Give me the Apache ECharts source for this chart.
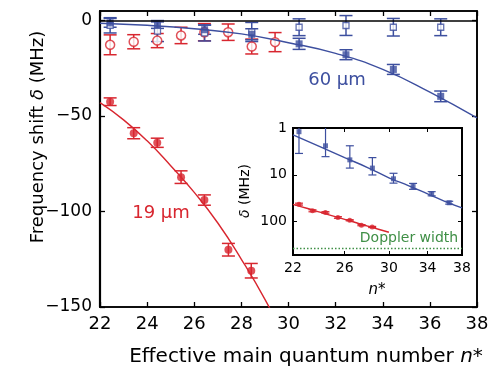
<!DOCTYPE html>
<html>
<head>
<meta charset="utf-8">
<script src="https://cdn.jsdelivr.net/npm/echarts@6/dist/echarts.min.js"></script>
<style>html,body{margin:0;padding:0;background:#fff;}#c{width:490px;height:369px;}</style>
</head>
<body>
<div id="c"></div>
<script>
// ---- data ----
const nRed = [22.43, 23.43, 24.43, 25.44, 26.43, 27.45, 28.42];
const red19 = [-42.5, -59, -64, -82, -94, -120, -131];
const red19Err = [2, 2.9, 2.4, 3.3, 2.7, 3.3, 3.8];

const nRedOpen = [22.43, 23.43, 24.43, 25.44, 26.43, 27.44, 28.44, 29.43];
const redOpen = [-12.7, -11.1, -10.5, -7.8, -6.1, -6.1, -13.6, -11.3];
const redOpenErr = [5.2, 3.7, 3.7, 4.3, 4.5, 4.3, 3.9, 5];

const nBlue = [22.43, 24.44, 26.44, 28.44, 30.45, 32.44, 34.45, 36.46];
const blue60 = [-1.2, -2.4, -4.8, -7.2, -12.2, -17.9, -25.6, -39.7];
const blue60Err = [2.3, 1.7, 2.4, 2.9, 2.9, 2.6, 2.6, 2.8];
const blueOpen = [-2.5, -5.5, -6.5, -6, -3.5, -2.6, -3.5, -3.5];
const blueOpenErr = [4, 5.5, 4.2, 5, 4.4, 5.2, 4.6, 4.4];

const blueFitN = [22, 24, 26, 28, 30, 32, 34, 36, 38];
const blueFit = [-1.4, -2.5, -4.3, -7, -11.6, -17.2, -25.6, -37.5, -51];
const redFitN = [22, 23, 24, 25, 26, 27, 28, 29, 30];
const redFit = [-43, -52, -63, -76, -90, -106, -125, -146, -170];

const dopplerWidth = 370;

const mainXTicks = [22, 24, 26, 28, 30, 32, 34, 36, 38];
const mainYTicks = [-150, -100, -50, 0];
const insetXTicks = [22, 26, 30, 34, 38];
const insetYTicks = [1, 10, 100];

// ---- helpers ----
const RED = '#d8262f', BLUE = '#3d4f9f', GREEN = '#3f8f46';
const FONT = 'DejaVu Sans';
const zip = (xs, ys) => xs.map((x, i) => [x, ys[i]]);
const zip3 = (xs, ys, es) => xs.map((x, i) => [x, ys[i], es[i]]);
const absArr = a => a.map(v => -v);

function errRender(color, capW, lw, logMode) {
  return function (params, api) {
    const x = api.value(0), y = api.value(1), e = api.value(2);
    let lo = y - e, hi = y + e;
    if (logMode) lo = Math.max(lo, 0.05);
    const p1 = api.coord([x, hi]), p2 = api.coord([x, lo]);
    const cs = params.coordSys;
    const top = Math.min(p1[1], p2[1]), bot = Math.max(p1[1], p2[1]);
    const cl = v => Math.min(Math.max(v, cs.y), cs.y + cs.height);
    const yT = cl(top), yB = cl(bot);
    const cx = p1[0];
    const st = { stroke: color, lineWidth: lw };
    const ch = [{ type: 'line', shape: { x1: cx, y1: yT, x2: cx, y2: yB }, style: st }];
    if (top >= cs.y && top <= cs.y + cs.height) ch.push({ type: 'line', shape: { x1: cx - capW / 2, y1: top, x2: cx + capW / 2, y2: top }, style: st });
    if (bot >= cs.y && bot <= cs.y + cs.height) ch.push({ type: 'line', shape: { x1: cx - capW / 2, y1: bot, x2: cx + capW / 2, y2: bot }, style: st });
    return { type: 'group', children: ch };
  };
}

const mkLine = w => ({ show: true, onZero: false, lineStyle: { color: '#000', width: w } });
const mkTick = (len, w, vals) => ({ show: true, inside: true, length: len, lineStyle: { color: '#000', width: w }, customValues: vals });
const negFmt = v => (v < 0 ? '\u2212' + Math.abs(v) : String(v));

const chart = echarts.init(document.getElementById('c'), null, { renderer: 'canvas' });
chart.setOption({
  animation: false,
  backgroundColor: '#fff',
  grid: [
    { left: 100, right: 13, top: 11, bottom: 62, outerBoundsMode: 'none', containLabel: false,
      show: true, backgroundColor: 'transparent', borderColor: '#000', borderWidth: 1.6 },
    { left: 293, right: 28, top: 128, bottom: 114, outerBoundsMode: 'none', containLabel: false,
      show: true, backgroundColor: '#fff', borderColor: '#000', borderWidth: 2 }
  ],
  xAxis: [
    { gridIndex: 0, type: 'value', min: 22, max: 38, interval: 2, position: 'bottom',
      axisLine: mkLine(1.6), splitLine: { show: false }, axisTick: mkTick(5, 1.3, mainXTicks),
      axisLabel: { show: true, fontFamily: FONT, fontSize: 18, color: '#000', margin: 8, customValues: mainXTicks } },
    { gridIndex: 0, type: 'value', min: 22, max: 38, interval: 2, position: 'top',
      axisLine: mkLine(1.6), splitLine: { show: false }, axisTick: mkTick(5, 1.3, mainXTicks),
      axisLabel: { show: false } },
    { gridIndex: 1, type: 'log', logBase: 10, min: 22, max: 38, position: 'bottom',
      axisLine: mkLine(2), splitLine: { show: false }, minorTick: { show: false }, axisTick: mkTick(4, 1, insetXTicks),
      axisLabel: { show: true, fontFamily: FONT, fontSize: 14, color: '#000', margin: 6, customValues: insetXTicks } },
    { gridIndex: 1, type: 'log', logBase: 10, min: 22, max: 38, position: 'top',
      axisLine: mkLine(2), splitLine: { show: false }, minorTick: { show: false }, axisTick: mkTick(4, 1, insetXTicks),
      axisLabel: { show: false } }
  ],
  yAxis: [
    { gridIndex: 0, type: 'value', min: -150, max: 5, interval: 50, position: 'left',
      axisLine: mkLine(2.2), splitLine: { show: false }, axisTick: mkTick(5, 1.3, mainYTicks),
      axisLabel: { show: true, fontFamily: FONT, fontSize: 17, color: '#000', margin: 8, formatter: negFmt, customValues: mainYTicks } },
    { gridIndex: 0, type: 'value', min: -150, max: 5, interval: 50, position: 'right',
      axisLine: mkLine(1.6), splitLine: { show: false }, axisTick: mkTick(5, 1.3, mainYTicks),
      axisLabel: { show: false } },
    { gridIndex: 1, type: 'log', logBase: 10, min: 1, max: 520, inverse: true, position: 'left',
      axisLine: mkLine(2), splitLine: { show: false }, minorTick: { show: false }, axisTick: mkTick(4, 1, insetYTicks),
      axisLabel: { show: true, fontFamily: FONT, fontSize: 14, color: '#000', margin: 6, customValues: insetYTicks } },
    { gridIndex: 1, type: 'log', logBase: 10, min: 1, max: 520, inverse: true, position: 'right',
      axisLine: mkLine(2), splitLine: { show: false }, minorTick: { show: false }, axisTick: mkTick(4, 1, insetYTicks),
      axisLabel: { show: false } }
  ],
  series: [
    // main plot fits
    { type: 'line', xAxisIndex: 0, yAxisIndex: 0, data: zip(blueFitN, blueFit), smooth: true, showSymbol: false,
      lineStyle: { color: BLUE, width: 1.4 }, clip: true,
      markLine: { silent: true, symbol: 'none', label: { show: false }, lineStyle: { color: '#000', width: 1.6, type: 'solid' }, data: [{ yAxis: 0 }] } },
    { type: 'line', xAxisIndex: 0, yAxisIndex: 0, data: zip(redFitN, redFit), smooth: true, showSymbol: false,
      lineStyle: { color: RED, width: 1.4 }, clip: true },
    // main error bars
    { type: 'custom', xAxisIndex: 0, yAxisIndex: 0, renderItem: errRender(RED, 13, 1.5, false), data: zip3(nRedOpen, redOpen, redOpenErr) },
    { type: 'custom', xAxisIndex: 0, yAxisIndex: 0, renderItem: errRender(BLUE, 13, 1.5, false), data: zip3(nBlue, blueOpen, blueOpenErr) },
    { type: 'custom', xAxisIndex: 0, yAxisIndex: 0, renderItem: errRender(BLUE, 13, 1.5, false), data: zip3(nBlue, blue60, blue60Err) },
    { type: 'custom', xAxisIndex: 0, yAxisIndex: 0, renderItem: errRender(RED, 13, 1.5, false), data: zip3(nRed, red19, red19Err) },
    // main markers
    { type: 'scatter', xAxisIndex: 0, yAxisIndex: 0, data: zip(nRedOpen, redOpen), symbol: 'circle', symbolSize: 9,
      itemStyle: { color: '#fff', borderColor: RED, borderWidth: 1.5 } },
    { type: 'scatter', xAxisIndex: 0, yAxisIndex: 0, data: zip(nBlue, blueOpen), symbol: 'rect', symbolSize: 6,
      itemStyle: { color: '#fff', borderColor: BLUE, borderWidth: 1.3 } },
    { type: 'scatter', xAxisIndex: 0, yAxisIndex: 0, data: zip(nBlue, blue60), symbol: 'rect', symbolSize: 7,
      itemStyle: { color: BLUE } },
    { type: 'scatter', xAxisIndex: 0, yAxisIndex: 0, data: zip(nRed, red19), symbol: 'circle', symbolSize: 8,
      itemStyle: { color: RED } },
    // inset
    { type: 'line', xAxisIndex: 2, yAxisIndex: 2, data: zip(blueFitN, absArr(blueFit)), smooth: true, showSymbol: false,
      lineStyle: { color: BLUE, width: 1.4 }, clip: true,
      markLine: { silent: true, symbol: 'none', label: { show: false }, lineStyle: { color: GREEN, width: 1.3, type: [1.5, 2] }, data: [{ yAxis: dopplerWidth }] } },
    { type: 'line', xAxisIndex: 2, yAxisIndex: 2, data: zip(redFitN, absArr(redFit)), smooth: true, showSymbol: false,
      lineStyle: { color: RED, width: 1.4 }, clip: true },
    { type: 'custom', xAxisIndex: 2, yAxisIndex: 2, renderItem: errRender(BLUE, 8, 1.2, true), data: zip3(nBlue, absArr(blue60), blue60Err) },
    { type: 'custom', xAxisIndex: 2, yAxisIndex: 2, renderItem: errRender(RED, 8, 1.2, true), data: zip3(nRed, absArr(red19), red19Err) },
    { type: 'scatter', xAxisIndex: 2, yAxisIndex: 2, data: zip(nBlue, absArr(blue60)), symbol: 'rect', symbolSize: 5,
      itemStyle: { color: BLUE } },
    { type: 'scatter', xAxisIndex: 2, yAxisIndex: 2, data: zip(nRed, absArr(red19)), symbol: 'circle', symbolSize: 5,
      itemStyle: { color: RED } }
  ],
  graphic: [
    { type: 'text', x: 38, y: 137, rotation: Math.PI / 2,
      style: { text: '{a|Frequency shift }{i|\u03b4}{a| (MHz)}', align: 'center', verticalAlign: 'middle',
        rich: { a: { fontFamily: FONT, fontSize: 18, fill: '#000' }, i: { fontFamily: FONT, fontSize: 18, fontStyle: 'italic', fill: '#000' } } } },
    { type: 'text', x: 306, y: 357,
      style: { text: '{a|Effective main quantum number }{i|n}{a|*}', align: 'center', verticalAlign: 'middle',
        rich: { a: { fontFamily: FONT, fontSize: 20, fill: '#000' }, i: { fontFamily: FONT, fontSize: 20, fontStyle: 'italic', fill: '#000' } } } },
    { type: 'text', x: 337, y: 80, style: { text: '60 \u00b5m', fontFamily: FONT, fontSize: 18, fill: BLUE, align: 'center', verticalAlign: 'middle' } },
    { type: 'text', x: 161, y: 213, style: { text: '19 \u00b5m', fontFamily: FONT, fontSize: 18, fill: RED, align: 'center', verticalAlign: 'middle' } },
    { type: 'text', x: 409, y: 238, z: 100, style: { text: 'Doppler width', fontFamily: FONT, fontSize: 14, fill: GREEN, align: 'center', verticalAlign: 'middle' } },
    { type: 'text', x: 245, y: 191, rotation: Math.PI / 2,
      style: { text: '{i|\u03b4}{a| (MHz)}', align: 'center', verticalAlign: 'middle',
        rich: { a: { fontFamily: FONT, fontSize: 14, fill: '#000' }, i: { fontFamily: FONT, fontSize: 14, fontStyle: 'italic', fill: '#000' } } } },
    { type: 'text', x: 377, y: 290,
      style: { text: '{i|n}{a|*}', align: 'center', verticalAlign: 'middle',
        rich: { a: { fontFamily: FONT, fontSize: 15, fill: '#000' }, i: { fontFamily: FONT, fontSize: 15, fontStyle: 'italic', fill: '#000' } } } }
  ]
});
</script>
</body>
</html>
